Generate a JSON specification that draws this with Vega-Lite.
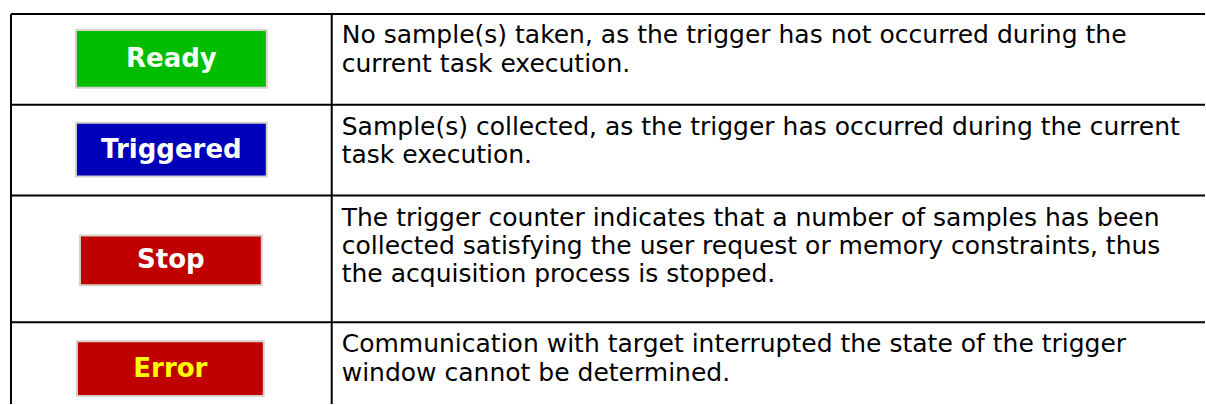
{
  "$schema": "https://vega.github.io/schema/vega-lite/v6.json",
  "width": 1206,
  "height": 405,
  "padding": 0,
  "autosize": {"type": "fit", "contains": "padding"},
  "background": "white",
  "config": {"view": {"stroke": null}},
  "datasets": {
    "grid": [
      {"x": 11, "x2": 1206, "y": 14, "y2": 14},
      {"x": 11, "x2": 1206, "y": 105, "y2": 105},
      {"x": 11, "x2": 1206, "y": 196, "y2": 196},
      {"x": 11, "x2": 1206, "y": 323, "y2": 323},
      {"x": 11, "x2": 11, "y": 14, "y2": 405},
      {"x": 332, "x2": 332, "y": 14, "y2": 405}
    ],
    "buttons": [
      {"status": "Ready", "x": 76, "x2": 267, "y": 30, "y2": 88, "cx": 171.5, "cy": 59},
      {"status": "Triggered", "x": 76, "x2": 267, "y": 123, "y2": 177, "cx": 171.5, "cy": 150},
      {"status": "Stop", "x": 80, "x2": 262, "y": 236, "y2": 286, "cx": 171, "cy": 261},
      {"status": "Error", "x": 77, "x2": 264, "y": 342, "y2": 397, "cx": 170.5, "cy": 369.5}
    ],
    "lines": [
      {"status": "Ready", "y": 43, "text": "No sample(s) taken, as the trigger has not occurred during the"},
      {"status": "Ready", "y": 72, "text": "current task execution."},
      {"status": "Triggered", "y": 135, "text": "Sample(s) collected, as the trigger has occurred during the current"},
      {"status": "Triggered", "y": 163, "text": "task execution."},
      {"status": "Stop", "y": 227, "text": "The trigger counter indicates that a number of samples has been"},
      {"status": "Stop", "y": 255, "text": "collected satisfying the user request or memory constraints, thus"},
      {"status": "Stop", "y": 283, "text": "the acquisition process is stopped."},
      {"status": "Error", "y": 353, "text": "Communication with target interrupted the state of the trigger"},
      {"status": "Error", "y": 382, "text": "window cannot be determined."}
    ]
  },
  "layer": [
    {
      "data": {"name": "grid"},
      "mark": {"type": "rule", "color": "black", "strokeWidth": 2},
      "encoding": {
        "x": {"field": "x", "type": "quantitative", "scale": {"domain": [0, 1206], "nice": false, "zero": false}, "axis": null},
        "x2": {"field": "x2"},
        "y": {"field": "y", "type": "quantitative", "scale": {"domain": [405, 0], "nice": false, "zero": false}, "axis": null},
        "y2": {"field": "y2"}
      }
    },
    {
      "data": {"name": "buttons"},
      "mark": {"type": "rect", "stroke": "#d6d2ca", "strokeWidth": 2},
      "encoding": {
        "x": {"field": "x", "type": "quantitative"},
        "x2": {"field": "x2"},
        "y": {"field": "y", "type": "quantitative"},
        "y2": {"field": "y2"},
        "fill": {"field": "status", "type": "nominal", "legend": null,
          "scale": {"domain": ["Ready", "Triggered", "Stop", "Error"], "range": ["#00bd00", "#0000b8", "#c00000", "#c00000"]}}
      }
    },
    {
      "data": {"name": "buttons"},
      "mark": {"type": "text", "font": "DejaVu Sans", "fontWeight": "bold", "fontSize": 26, "align": "center", "baseline": "middle"},
      "encoding": {
        "x": {"field": "cx", "type": "quantitative"},
        "y": {"field": "cy", "type": "quantitative"},
        "text": {"field": "status"},
        "color": {"field": "status", "type": "nominal", "legend": null,
          "scale": {"domain": ["Ready", "Triggered", "Stop", "Error"], "range": ["#f4fff4", "#ffffff", "#ffffff", "#ffff00"]}}
      }
    },
    {
      "data": {"name": "lines"},
      "mark": {"type": "text", "font": "DejaVu Sans", "fontSize": 25, "align": "left", "baseline": "alphabetic", "color": "#000000"},
      "encoding": {
        "x": {"datum": 342, "type": "quantitative"},
        "y": {"field": "y", "type": "quantitative"},
        "text": {"field": "text"}
      }
    }
  ]
}
